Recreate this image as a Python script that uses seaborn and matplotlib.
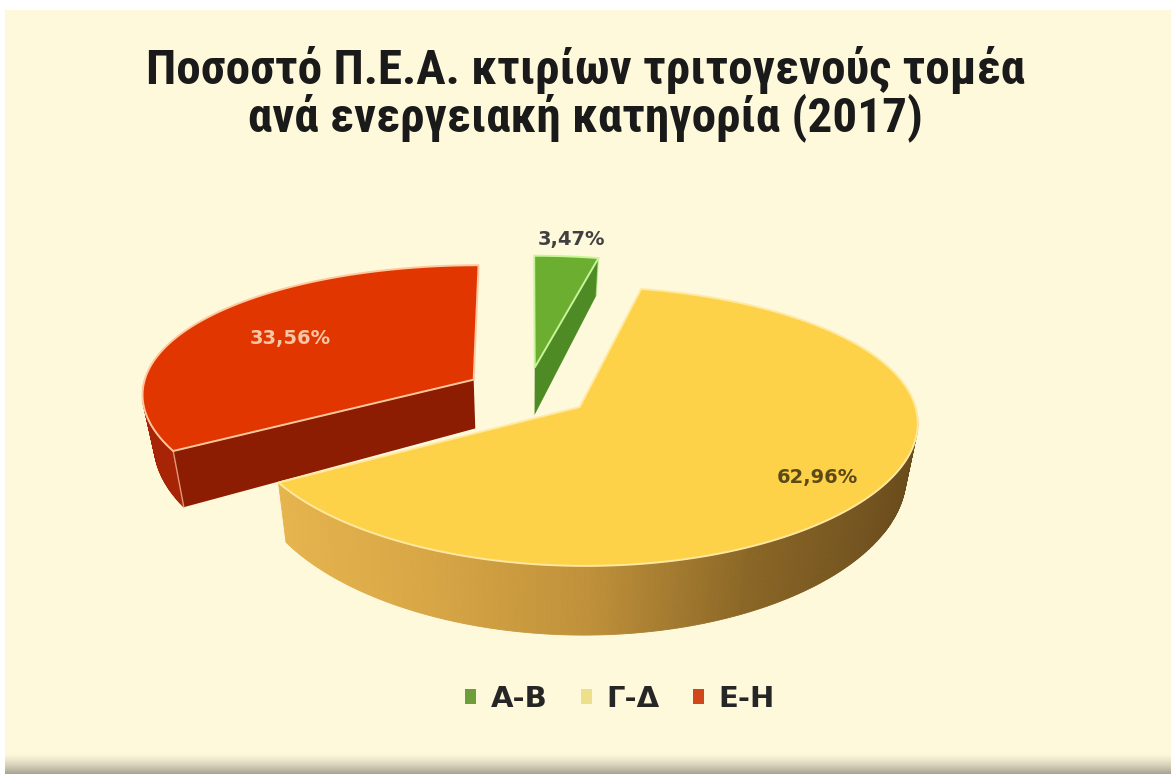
import numpy as np
import matplotlib
matplotlib.use("Agg")
import matplotlib.pyplot as plt
import seaborn as sns
from matplotlib.patches import Polygon, Rectangle, Patch
from matplotlib.colors import LinearSegmentedColormap
from matplotlib import font_manager
from matplotlib.font_manager import FontProperties

# ---------------- data ----------------
categories = ["Α-Β", "Γ-Δ", "Ε-Η"]
values = [3.47, 62.96, 33.56]
title_lines = ["Ποσοστό Π.Ε.Α. κτιρίων τριτογενούς τομέα",
               "ανά ενεργειακή κατηγορία (2017)"]

# ---------------- style ----------------
sns.set_theme(style="white")
plt.rcParams['font.family'] = ['DejaVu Sans']

top_colors = ['#6CAE30', '#FDD148', '#E23600']
wall_colors = ['#4F8B25', '#C89A3E', '#8C1C02']
outer_wall_cmaps = [
    LinearSegmentedColormap.from_list('g', ['#4F8B25', '#4F8B25']),
    LinearSegmentedColormap.from_list('y', ['#E8B64E', '#D8A645', '#C0913A', '#8A6626', '#6A4C1C']),
    LinearSegmentedColormap.from_list('r', ['#A82406', '#A82406']),
]
edge_colors = ['#C8F59A', '#FFE9A0', '#FFC8A0']
legend_colors = ['#6E9E3C', '#EEDF8C', '#D2461C']
label_colors = ['#404040', '#5B4A17', '#F7C6A4']
label_r = [1.17, 0.82, 0.67]
cream = '#FEF9DB'

W, H = 1171, 774
fig = plt.figure(figsize=(W / 100, H / 100), dpi=100)
fig.patch.set_facecolor('white')
ax = fig.add_axes([0, 0, 1, 1])

# background panel + bottom shadow
ax.add_patch(Rectangle((5, 10), W - 5, 750, facecolor=cream, edgecolor='none', zorder=0))
grad = np.linspace(0, 1, 50).reshape(-1, 1) ** 1.5
shade = LinearSegmentedColormap.from_list('sh', [cream, '#A8A392'])
ax.imshow(grad, extent=(5, W, 774, 752), cmap=shade, aspect='auto', zorder=0.5,
          interpolation='bilinear')

# ---------------- 3D pie projection ----------------
CX, CY, SX, SY = 528, 392, 332, 133
K, KX, DEPTH, EXPL, MB = 0.135, 0.10, 50, 0.19, 0.97


def proj(u, v):
    u = np.asarray(u, float)
    v = np.asarray(v, float)
    return CX + SX * u / (1 + KX * v), CY - SY * v / (1 + K * v)


def proj_bottom(u, v):
    x, y = proj(u, v)
    return CX + (x - CX) * MB, y + DEPTH / (1 + K * np.asarray(v, float)) ** 2


fr = np.array(values) / np.sum(values)
edges = np.concatenate([[0.0], np.cumsum(fr) * 360.0])

draw_order = [0, 2, 1]
for i in draw_order:
    t0, t1 = edges[i], edges[i + 1]
    tm = 0.5 * (t0 + t1)
    ou = EXPL * np.sin(np.radians(tm))
    ov = EXPL * np.cos(np.radians(tm))
    z = 2 + draw_order.index(i)

    def pt(t, r=1.0):
        return ou + r * np.sin(np.radians(t)), ov + r * np.cos(np.radians(t))

    apx, apy = proj(ou, ov)
    abx, aby = proj_bottom(ou, ov)

    # outer curved wall (front half only)
    a, b = max(t0, 90.0), min(t1, 270.0)
    if a < b:
        ts = np.linspace(a, b, int((b - a) * 2) + 2)
        us, vs = pt(ts)
        xs, ys = proj(us, vs)
        xb, yb = proj_bottom(us, vs)
        xmin, xmax = 260, 915
        for j in range(len(ts) - 1):
            quad = [(xs[j], ys[j]), (xs[j + 1], ys[j + 1]),
                    (xb[j + 1], yb[j + 1]), (xb[j], yb[j])]
            c = outer_wall_cmaps[i](np.clip((0.5 * (xs[j] + xs[j + 1]) - xmin) / (xmax - xmin), 0, 1))
            ax.add_patch(Polygon(quad, closed=True, facecolor=c, edgecolor=c, lw=0.6, zorder=z))

    # radial walls
    for t, vis in ((t0, np.sin(np.radians(t0)) < -1e-6), (t1, np.sin(np.radians(t1)) > 1e-6)):
        if vis:
            eu, ev = pt(t)
            ex, ey = proj(eu, ev)
            ebx, eby = proj_bottom(eu, ev)
            quad = [(apx, apy), (ex, ey), (ebx, eby), (abx, aby)]
            ax.add_patch(Polygon(quad, closed=True, facecolor=wall_colors[i],
                                 edgecolor='none', zorder=z))
            ax.plot([ex, ebx], [ey, eby], color=edge_colors[i], lw=1.0, alpha=0.7, zorder=z + 0.2)

    # top face
    ts = np.linspace(t0, t1, max(int((t1 - t0) * 2), 4))
    us, vs = pt(ts)
    xs, ys = proj(us, vs)
    poly = [(float(apx), float(apy))] + list(zip(xs, ys))
    ax.add_patch(Polygon(poly, closed=True, facecolor=top_colors[i],
                         edgecolor=edge_colors[i], lw=1.4, zorder=z + 0.1))

    # label
    lu, lv = pt(tm, label_r[i])
    lx, ly = proj(lu, lv)
    txt = f"{values[i]:.2f}".replace('.', ',') + '%'
    ax.text(float(lx), float(ly), txt, ha='center', va='center', fontsize=14,
            fontweight='bold', color=label_colors[i], family='DejaVu Sans', zorder=10)

# ---------------- title ----------------
def pick_title_font():
    prefs = ['liberation sans narrow', 'roboto condensed', 'noto sans condensed',
             'open sans condensed', 'dejavu sans condensed']
    best = None
    for f in font_manager.fontManager.ttflist:
        w = f.weight if isinstance(f.weight, int) else {'bold': 700, 'semibold': 600,
                                                         'demibold': 600, 'heavy': 800,
                                                         'black': 900}.get(str(f.weight), 400)
        if w < 600 or f.style != 'normal':
            continue
        st = f.stretch
        cond = ('narrow' in f.name.lower() or 'condensed' in f.name.lower()
                or 'condensed' in f.fname.lower() or 'narrow' in f.fname.lower()
                or (isinstance(st, str) and 'condensed' in st)
                or (isinstance(st, int) and st < 500))
        if not cond or 'extra' in f.fname.lower() or 'ultra' in f.fname.lower():
            continue
        key = (f.name + ' ' + ('condensed' if 'condensed' in f.fname.lower() else '')).lower()
        rank = len(prefs)
        for k, p in enumerate(prefs):
            if all(wd in key for wd in p.split()):
                rank = k
                break
        if 'semi' in f.fname.lower():
            rank += 0.5
        if best is None or rank < best[0]:
            best = (rank, f.fname)
    if best is None:
        return FontProperties(family='Liberation Sans', weight='bold')
    return FontProperties(fname=best[1])


tfp = pick_title_font()
t1_ = ax.text(585, 70, title_lines[0], ha='center', va='center', fontproperties=tfp,
              fontsize=30, color='#1A1A1A', zorder=10)
t2_ = ax.text(585, 118, title_lines[1], ha='center', va='center', fontproperties=tfp,
              fontsize=30, color='#1A1A1A', zorder=10)
fig.canvas.draw()
scale = 876.0 / t1_.get_window_extent().width
for t in (t1_, t2_):
    t.set_fontsize(30 * scale)

# ---------------- legend ----------------
handles = [Patch(facecolor=c, edgecolor='none') for c in legend_colors]
ax.legend(handles, categories, loc='center', bbox_to_anchor=(620 / W, 1 - 699 / H),
          ncol=3, frameon=False,
          prop={'family': 'DejaVu Sans', 'weight': 'bold', 'size': 21},
          handlelength=0.38, handleheight=0.38, handletextpad=0.5, columnspacing=1.15)

ax.set_xlim(0, W)
ax.set_ylim(H, 0)
ax.axis('off')
fig.savefig('out.png', dpi=100, facecolor=fig.get_facecolor())
